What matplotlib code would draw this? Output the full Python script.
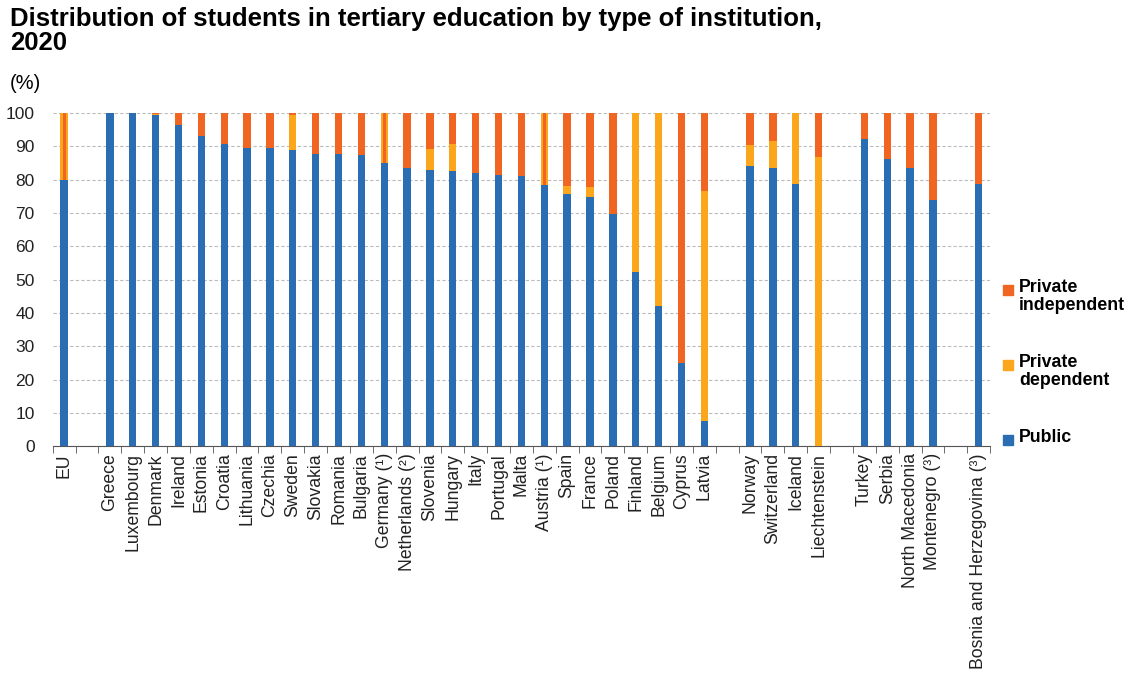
import matplotlib
matplotlib.use("Agg")
import matplotlib.pyplot as plt
from matplotlib.patches import Rectangle
import numpy as np

plt.rcParams['font.family'] = ['Liberation Sans', 'DejaVu Sans']

# empty strings are the gaps between country groups
countries = ["EU", "",
             "Greece", "Luxembourg", "Denmark", "Ireland", "Estonia", "Croatia",
             "Lithuania", "Czechia", "Sweden", "Slovakia", "Romania", "Bulgaria",
             "Germany (¹)", "Netherlands (²)", "Slovenia", "Hungary", "Italy",
             "Portugal", "Malta", "Austria (¹)", "Spain", "France", "Poland",
             "Finland", "Belgium", "Cyprus", "Latvia", "",
             "Norway", "Switzerland", "Iceland", "Liechtenstein", "",
             "Turkey", "Serbia", "North Macedonia", "Montenegro (³)", "",
             "Bosnia and Herzegovina (³)"]

public = [79.8, 0,
          100, 100, 99.5, 96.5, 93.0, 90.8, 89.5, 89.5, 89.0, 87.7, 87.7, 87.4,
          85.0, 83.5, 82.8, 82.5, 82.1, 81.4, 81.1, 78.4, 75.6, 74.8, 69.8,
          52.4, 42.2, 25.0, 7.6, 0,
          84.2, 83.5, 78.7, 0.0, 0,
          92.1, 86.3, 83.6, 74.0, 0,
          78.7]
private_dep = [0, 0,
               0, 0, 0.3, 0, 0, 0, 0, 0, 10.5, 0, 0, 0,
               0, 0, 6.5, 8.3, 0, 0, 0, 0, 2.5, 2.9, 0,
               47.6, 57.8, 0, 69.1, 0,
               6.1, 8.2, 21.3, 86.9, 0,
               0, 0, 0, 0, 0,
               0]
private_indep = [0, 0,
                 0, 0, 0.2, 3.5, 7.0, 9.2, 10.5, 10.5, 0.5, 12.3, 12.3, 12.6,
                 0, 16.5, 10.7, 9.2, 17.9, 18.6, 18.9, 0, 21.9, 22.3, 30.2,
                 0, 0, 75.0, 23.3, 0,
                 9.7, 8.3, 0, 13.1, 0,
                 7.9, 13.7, 16.4, 26.0, 0,
                 21.3]
# private share not split into dependent / independent (EU, Germany, Austria)
private_unsplit = [20.2, 0,
                   0, 0, 0, 0, 0, 0, 0, 0, 0, 0, 0, 0,
                   15.0, 0, 0, 0, 0, 0, 0, 21.6, 0, 0, 0,
                   0, 0, 0, 0, 0,
                   0, 0, 0, 0, 0,
                   0, 0, 0, 0, 0,
                   0]

series = ["Public", "Private\ndependent", "Private\nindependent"]
colors = ["#2A6DB3", "#FBA61B", "#F06522"]

fig = plt.figure(figsize=(11.29, 6.77), dpi=100)
ax = fig.add_axes([0.0467, 0.341, 0.8303, 0.492])

x = np.arange(len(countries))
pub = np.array(public)
dep = np.array(private_dep)
ind = np.array(private_indep)
uns = np.array(private_unsplit)
w = 0.32
ax.bar(x, pub, w, color=colors[0], zorder=3)
ax.bar(x, dep, w, bottom=pub, color=colors[1], zorder=3)
ax.bar(x, ind, w, bottom=pub + dep, color=colors[2], zorder=3)
# unsplit private part: yellow with a red stripe
ax.bar(x, uns, w, bottom=pub, color=colors[1], zorder=3)
ax.bar(x, uns, w * 0.42, bottom=pub, color=colors[2], zorder=4)

ax.set_xlim(-0.5, len(countries) - 0.5)
ax.set_ylim(0, 100)
ax.set_yticks(range(0, 101, 10))
ax.yaxis.grid(True, linestyle=(0, (3, 2)), color="#BBBBBB", linewidth=0.8)
ax.tick_params(axis="y", length=0, labelsize=12.5, colors="#222222", pad=13)

ax.set_xticks(x)
ax.set_xticklabels(countries, rotation=90, fontsize=12.7, color="#222222")
ax.set_xticks(np.arange(-0.5, len(countries)), minor=True)
ax.tick_params(axis="x", which="major", length=0, pad=5)
ax.tick_params(axis="x", which="minor", length=5, color="#555555", direction="out")

for s in ["top", "right", "left"]:
    ax.spines[s].set_visible(False)
ax.spines["bottom"].set_color("#555555")

fig.text(0.009, 0.99, "Distribution of students in tertiary education by type of institution,\n2020",
         fontsize=18.5, fontweight="bold", va="top", ha="left", linespacing=1.02)
fig.text(0.009, 0.862, "(%)", fontsize=14.5, va="bottom", ha="left")

# legend drawn by hand to match the stacked layout on the right
leg_y = [435, 360, 285]
for name, col, yy in zip(series, colors, leg_y):
    fy = 1 - yy / 677
    fig.add_artist(Rectangle((1003 / 1129, fy - 10 / 677), 10 / 1129, 10 / 677,
                             transform=fig.transFigure, color=col))
    fig.text(1019 / 1129, fy + 6 / 677, name, fontsize=12.8, fontweight="bold",
             va="top", ha="left", linespacing=1.1)

fig.savefig("out.png", dpi=100)
